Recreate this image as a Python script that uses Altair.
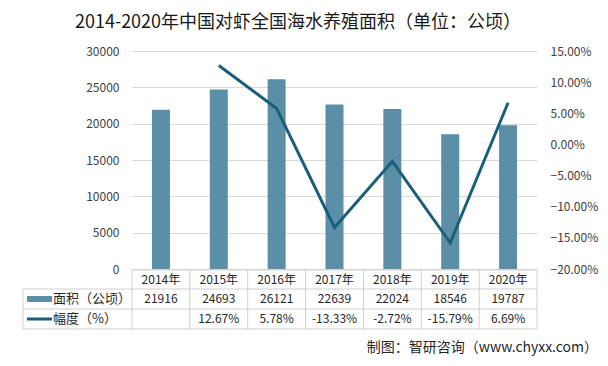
import altair as alt
import pandas as pd

years = ["2014年", "2015年", "2016年", "2017年", "2018年", "2019年", "2020年"]
area = [21916, 24693, 26121, 22639, 22024, 18546, 19787]
pct = [None, 0.1267, 0.0578, -0.1333, -0.0272, -0.1579, 0.0669]
pct_labels = ["", "12.67%", "5.78%", "-13.33%", "-2.72%", "-15.79%", "6.69%"]
title_text = "2014-2020年中国对虾全国海水养殖面积（单位：公顷）"
source_text = "制图：智研咨询（www.chyxx.com）"
series_names = ["面积（公顷）", "幅度（%）"]

W, H = 405, 218
FONT = "Noto Sans CJK SC"
BAR = "#5B8FA7"
LINE = "#1B5E79"
GRID = "#D9D9D9"
TBL = "#CFCFCF"

df = pd.DataFrame({"year": years, "area": area, "pct": pct,
                   "area_lbl": [str(v) for v in area], "pct_lbl": pct_labels})

xscale = alt.Scale(domain=years, paddingInner=0, paddingOuter=0)
X = alt.X("year:N", scale=xscale, axis=None, sort=years)

base = alt.Chart(df)

bars = base.mark_bar(color=BAR, width=18).encode(
    x=X,
    y=alt.Y("area:Q", scale=alt.Scale(domain=[0, 30000]),
            axis=alt.Axis(values=[0, 5000, 10000, 15000, 20000, 25000, 30000], format="d",
                          title=None, domain=False, ticks=False, grid=True,
                          gridColor=GRID, labelPadding=13, labelFontSize=12,
                          labelColor="#404040", labelFont=FONT)),
)

line = base.mark_line(color=LINE, strokeWidth=3).encode(
    x=X,
    y=alt.Y("pct:Q", scale=alt.Scale(domain=[-0.20, 0.15]),
            axis=alt.Axis(orient="right", values=[-0.2, -0.15, -0.1, -0.05, 0, 0.05, 0.1, 0.15],
                          format=".2%", title=None, domain=False, ticks=False, grid=False,
                          labelPadding=13, labelFontSize=12, labelColor="#404040",
                          labelFont=FONT)),
)

txt_kw = dict(font=FONT, fontSize=12, color="#262626", align="center", baseline="middle")
hdr = base.mark_text(**txt_kw).encode(x=X, y=alt.value(229), text="year:N")
row1 = base.mark_text(**txt_kw).encode(x=X, y=alt.value(248), text="area_lbl:N")
row2 = base.mark_text(**txt_kw).encode(x=X, y=alt.value(268), text="pct_lbl:N")

# table grid
vlines = base.mark_rule(color=TBL, strokeWidth=1).encode(
    x=alt.X("year:N", scale=xscale, axis=None, sort=years, bandPosition=0),
    y=alt.value(219), y2=alt.value(278))
tb = alt.Chart(pd.DataFrame({"k": [0]}))
rules = [
    tb.mark_rule(color=TBL).encode(x=alt.value(W), y=alt.value(219), y2=alt.value(278)),
    tb.mark_rule(color=TBL).encode(x=alt.value(-109), y=alt.value(238), y2=alt.value(278)),
    tb.mark_rule(color=TBL).encode(x=alt.value(0), x2=alt.value(W), y=alt.value(219)),
    tb.mark_rule(color=TBL).encode(x=alt.value(-109), x2=alt.value(W), y=alt.value(238)),
    tb.mark_rule(color=TBL).encode(x=alt.value(-109), x2=alt.value(W), y=alt.value(258)),
    tb.mark_rule(color=TBL).encode(x=alt.value(-109), x2=alt.value(W), y=alt.value(278)),
]

# legend swatches and labels
sw_bar = tb.mark_rect(color=BAR).encode(x=alt.value(-105), x2=alt.value(-80),
                                        y=alt.value(245), y2=alt.value(251))
sw_line = tb.mark_rule(color=LINE, strokeWidth=3).encode(x=alt.value(-105), x2=alt.value(-80),
                                                          y=alt.value(268))
leg_kw = dict(font=FONT, fontSize=13, color="#262626", align="left", baseline="middle")
leg1 = alt.Chart(pd.DataFrame({"name": [series_names[0]]})).mark_text(**leg_kw).encode(
    x=alt.value(-79), y=alt.value(248), text="name:N")
leg2 = alt.Chart(pd.DataFrame({"name": [series_names[1]]})).mark_text(**leg_kw).encode(
    x=alt.value(-79), y=alt.value(268), text="name:N")

title = alt.Chart(pd.DataFrame({"t": [title_text]})).mark_text(
    font=FONT, fontSize=18, color="#1a1a1a", align="center", baseline="middle").encode(
    x=alt.value(166), y=alt.value(-28), text="t:N")
source = alt.Chart(pd.DataFrame({"t": [source_text]})).mark_text(
    font=FONT, fontSize=14, color="#262626", align="right", baseline="middle").encode(
    x=alt.value(466), y=alt.value(297), text="t:N")

main = alt.layer(bars, line).resolve_scale(y="independent")

chart = alt.layer(main, vlines, *rules, sw_bar, sw_line, leg1, leg2, hdr, row1, row2, title, source).properties(
    width=W, height=H,
    autosize=alt.AutoSizeParams(type="none"),
    padding={"left": 124, "top": 43, "right": 63, "bottom": 89},
).configure_view(stroke=None).resolve_scale(y="independent")

chart.save("out.html", embed_options={"renderer": "svg", "actions": False})
